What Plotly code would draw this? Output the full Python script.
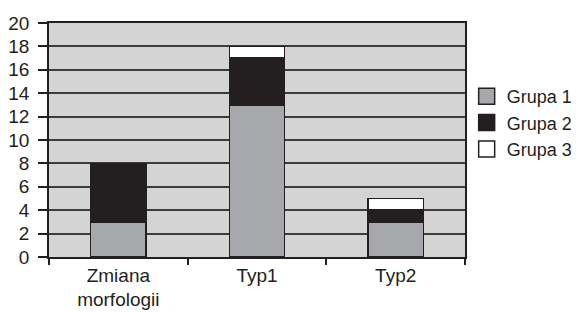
import plotly.graph_objects as go

categories = ["Zmiana<br>morfologii", "Typ1", "Typ2"]
grupa1 = [3, 13, 3]
grupa2 = [5, 4, 1]
grupa3 = [0, 1, 1]
series_names = ["Grupa 1", "Grupa 2", "Grupa 3"]
colors = ["#a7a8ab", "#231f20", "#ffffff"]
y_ticks = list(range(0, 21, 2))

FONT = "Liberation Sans, Arial, sans-serif"

fig = go.Figure()
for name, vals, col in zip(series_names, [grupa1, grupa2, grupa3], colors):
    fig.add_trace(go.Bar(
        x=categories, y=vals, name=name, showlegend=False,
        marker=dict(color=col, line=dict(color="#231f20", width=1.5)),
        width=0.4,
    ))
# legend entries with larger square swatches
for name, col in zip(series_names, colors):
    fig.add_trace(go.Scatter(
        x=[None], y=[None], mode="markers", name=name,
        marker=dict(symbol="square", size=18, color=col,
                    line=dict(color="#231f20", width=1.5)),
    ))

# page body has an 8px margin, so the figure is 8px smaller than the window
fig.update_layout(
    barmode="stack",
    width=571, height=304,
    margin=dict(l=41, r=114, t=15, b=55, autoexpand=False),
    paper_bgcolor="white",
    plot_bgcolor="#d4d4d5",
    font=dict(family=FONT, size=19, color="#231f20"),
    showlegend=True,
    legend=dict(
        x=1.004, y=0.765, xanchor="left", yanchor="top",
        font=dict(size=18), itemwidth=30, tracegroupgap=0,
        traceorder="normal", bgcolor="rgba(0,0,0,0)",
    ),
)
fig.update_yaxes(
    range=[0, 20], tickvals=y_ticks, ticks="outside", ticklen=9,
    tickcolor="#231f20", tickwidth=1.5, automargin=False,
    showgrid=True, gridcolor="#3c3c3c", gridwidth=1.5,
    showline=True, linecolor="#231f20", linewidth=1.5, mirror=True,
    zeroline=False, ticklabelstandoff=5,
)
fig.update_xaxes(
    ticks="outside", tickson="boundaries", ticklen=6,
    tickcolor="#231f20", tickwidth=1.5, automargin=False,
    showline=True, linecolor="#231f20", linewidth=1.5, mirror=True,
    showgrid=False,
)

fig.write_html("out.html")
